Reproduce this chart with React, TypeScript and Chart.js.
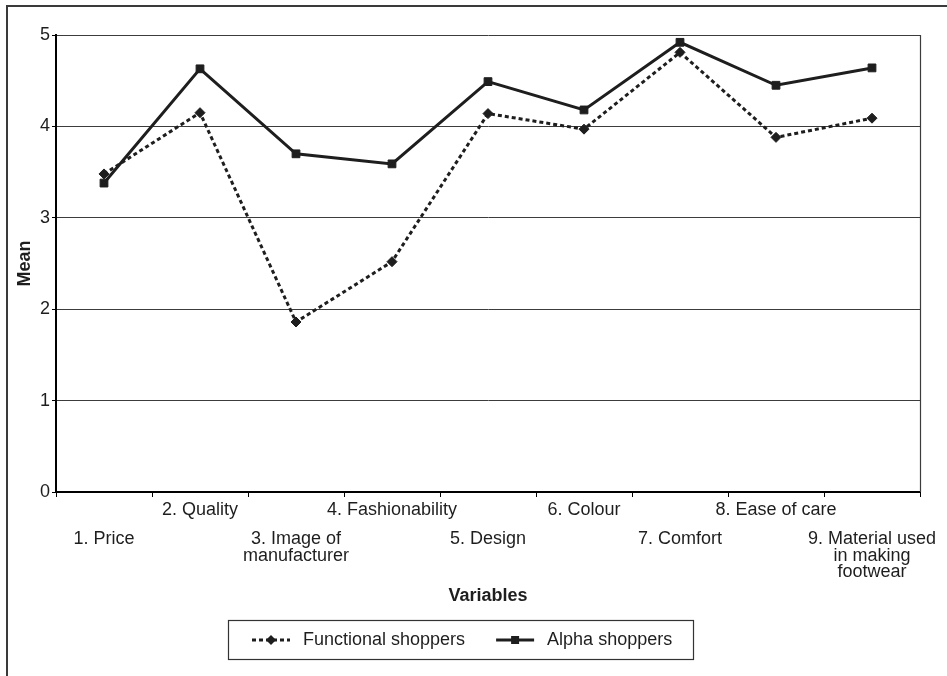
import React, { useEffect, useRef } from "react";
import { Chart, registerables } from "chart.js";

Chart.register(...registerables);

// ---- data ----
const categories: string[][] = [
  ["1. Price"],
  ["2. Quality"],
  ["3. Image of", "manufacturer"],
  ["4. Fashionability"],
  ["5. Design"],
  ["6. Colour"],
  ["7. Comfort"],
  ["8. Ease of care"],
  ["9. Material used", "in making", "footwear"],
];
const functionalShoppers = [3.48, 4.15, 1.86, 2.52, 4.14, 3.97, 4.81, 3.88, 4.09];
const alphaShoppers = [3.38, 4.63, 3.7, 3.59, 4.49, 4.18, 4.92, 4.45, 4.64];
const yTicks = [0, 1, 2, 3, 4, 5];
const yTitle = "Mean";
const xTitle = "Variables";
const seriesNames = ["Functional shoppers", "Alpha shoppers"];

const FONT = "'Liberation Sans', Arial, Helvetica, sans-serif";
const TEXT = "#1e1e1e";
const LINE = "#1e1e1e";
const FS = 18;

const frameAndLegendPlugin = {
  id: "frameAndLegend",
  beforeDatasetsDraw(chart: any) {
    const { ctx, chartArea } = chart;
    ctx.save();
    ctx.strokeStyle = "#3c3c3c";
    ctx.lineWidth = 1.2;
    ctx.beginPath();
    ctx.moveTo(chartArea.right + 0.5, chartArea.top);
    ctx.lineTo(chartArea.right + 0.5, chartArea.bottom);
    ctx.stroke();
    ctx.restore();
  },
  afterDraw(chart: any) {
    const ctx = chart.ctx;
    const boxX = 228, boxY = 620, boxW = 465, boxH = 39;
    ctx.save();
    ctx.strokeStyle = "#333";
    ctx.lineWidth = 1.2;
    ctx.strokeRect(boxX + 0.5, boxY + 0.5, boxW, boxH);
    const cy = boxY + boxH / 2 + 0.5;
    ctx.font = `${FS}px ${FONT}`;
    ctx.textBaseline = "middle";
    ctx.textAlign = "left";
    let x = 252;
    chart.data.datasets.forEach((ds: any) => {
      const sampleW = 38;
      ctx.beginPath();
      ctx.setLineDash(ds.borderDash || []);
      ctx.lineWidth = ds.borderWidth;
      ctx.strokeStyle = ds.borderColor;
      ctx.lineCap = "butt";
      ctx.moveTo(x, cy);
      ctx.lineTo(x + sampleW, cy);
      ctx.stroke();
      ctx.setLineDash([]);
      const mx = x + sampleW / 2;
      ctx.fillStyle = ds.pointBackgroundColor;
      ctx.beginPath();
      if (ds.pointStyle === "rectRot") {
        const r = 5;
        ctx.moveTo(mx, cy - r);
        ctx.lineTo(mx + r, cy);
        ctx.lineTo(mx, cy + r);
        ctx.lineTo(mx - r, cy);
        ctx.closePath();
      } else {
        const s = 4;
        ctx.rect(mx - s, cy - s, 2 * s, 2 * s);
      }
      ctx.fill();
      ctx.fillStyle = TEXT;
      const tx = x + sampleW + 13;
      ctx.fillText(ds.label, tx, cy);
      x = tx + ctx.measureText(ds.label).width + 31;
    });
    ctx.restore();
  },
};

export default function App() {
  const ref = useRef<HTMLCanvasElement | null>(null);

  useEffect(() => {
    if (!ref.current) return;
    const font = { family: FONT, size: FS };
    const chart = new Chart(ref.current, {
      type: "line",
      data: {
        labels: categories.map((c) => c.join(" ")),
        datasets: [
          {
            label: seriesNames[0],
            data: functionalShoppers,
            borderColor: LINE,
            backgroundColor: LINE,
            borderWidth: 3,
            borderDash: [4, 3],
            borderCapStyle: "butt",
            pointStyle: "rectRot",
            pointRadius: 5,
            pointBackgroundColor: LINE,
            pointBorderColor: LINE,
            pointBorderWidth: 1,
            tension: 0,
            fill: false,
          },
          {
            label: seriesNames[1],
            data: alphaShoppers,
            borderColor: LINE,
            backgroundColor: LINE,
            borderWidth: 3,
            pointStyle: "rect",
            pointRadius: 5.5,
            pointBackgroundColor: LINE,
            pointBorderColor: LINE,
            pointBorderWidth: 1,
            tension: 0,
            fill: false,
          },
        ],
      },
      options: {
        responsive: false,
        animation: false,
        devicePixelRatio: 1,
        layout: { padding: { top: 35, right: 27, bottom: 69, left: 0 } },
        plugins: {
          legend: { display: false },
          tooltip: { enabled: false },
        },
        scales: {
          x: {
            type: "category",
            position: "bottom",
            offset: true,
            grid: {
              display: true,
              drawOnChartArea: false,
              drawTicks: true,
              tickLength: 5,
              offset: true,
              color: "#000",
              lineWidth: 1,
            },
            border: { display: true, color: "#000", width: 2 },
            ticks: {
              autoSkip: false,
              maxRotation: 0,
              minRotation: 0,
              padding: 2,
              color: TEXT,
              font: { ...font, lineHeight: 1.2 },
              callback: (_v: any, i: number) => (i % 2 === 1 ? categories[i] : ""),
            },
            afterFit: (s: any) => {
              s.height = 27;
              s.paddingLeft = 0;
              s.paddingRight = 0;
            },
          },
          x2: {
            type: "category",
            position: "bottom",
            offset: true,
            grid: { display: false, drawTicks: false, drawOnChartArea: false },
            border: { display: false },
            ticks: {
              autoSkip: false,
              maxRotation: 0,
              minRotation: 0,
              padding: 12,
              color: TEXT,
              font: { ...font, lineHeight: 0.92 },
              callback: (_v: any, i: number) => (i % 2 === 0 ? categories[i] : ""),
            },
            title: {
              display: true,
              text: xTitle,
              color: TEXT,
              font: { ...font, weight: "bold", lineHeight: 1.2 },
              padding: { top: 0, bottom: 0 },
            },
            afterFit: (s: any) => {
              s.height = 88;
              s.paddingLeft = 0;
              s.paddingRight = 0;
            },
          },
          y: {
            type: "linear",
            min: 0,
            max: 5,
            afterBuildTicks: (s: any) => {
              s.ticks = yTicks.map((v) => ({ value: v }));
            },
            ticks: { padding: 2, color: TEXT, font },
            grid: {
              color: "#3c3c3c",
              lineWidth: 1,
              tickLength: 4,
              tickColor: "#000",
              drawTicks: true,
            },
            border: { display: true, color: "#000", width: 2 },
            title: {
              display: true,
              text: yTitle,
              color: TEXT,
              font: { ...font, weight: "bold", lineHeight: 1.2 },
              padding: { top: 14, bottom: 0 },
            },
            afterFit: (s: any) => {
              s.width = 56;
            },
          },
        },
      } as any,
      plugins: [frameAndLegendPlugin],
    });
    return () => chart.destroy();
  }, []);

  return (
    <div
      style={{
        position: "fixed",
        left: 0,
        top: 0,
        width: 947,
        height: 676,
        overflow: "hidden",
        background: "#fff",
      }}
    >
      <div
        style={{
          position: "absolute",
          left: 6,
          top: 5,
          width: 2000,
          height: 2000,
          borderLeft: "2px solid #3a3a3a",
          borderTop: "2px solid #3a3a3a",
        }}
      />
      <canvas
        ref={ref}
        width={947}
        height={676}
        style={{ position: "absolute", left: 0, top: 0, width: 947, height: 676 }}
      />
    </div>
  );
}
